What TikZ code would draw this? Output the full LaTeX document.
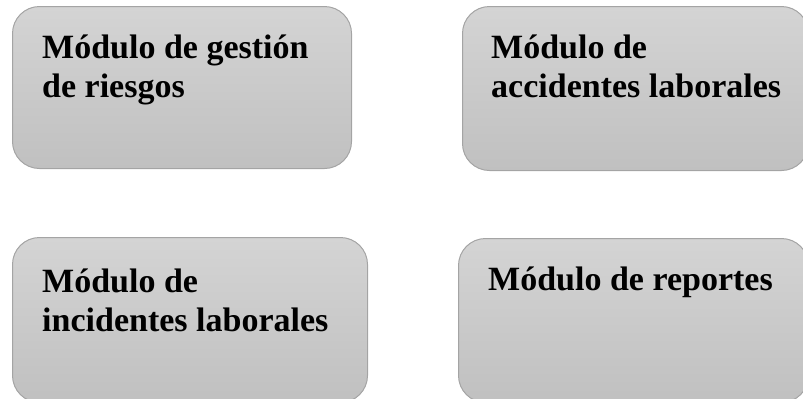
\documentclass[tikz,border=0pt]{standalone}
\usepackage{fontspec}
\setmainfont{Liberation Serif}
\definecolor{boxtop}{HTML}{D4D4D4}
\definecolor{boxbottom}{HTML}{C0C0C0}
\definecolor{boxedge}{HTML}{A4A4A4}
\begin{document}
\begin{tikzpicture}[x=1bp,y=-1bp,
  modbox/.style={draw=boxedge, line width=1bp, rounded corners=27bp,
    top color=boxtop, bottom color=boxbottom, anchor=north west,
    inner sep=0pt},
  modtext/.style={anchor=base west, inner sep=0pt, align=left,
    font=\fontsize{34bp}{39bp}\selectfont\bfseries}]
\useasboundingbox (0,0) rectangle (803,398);
% four module boxes
\node[modbox, minimum width=339bp, minimum height=162bp] (m1) at (12,6) {};
\node[modbox, minimum width=346bp, minimum height=164bp] (m2) at (462,6) {};
\node[modbox, minimum width=355bp, minimum height=165bp] (m3) at (12,237) {};
\node[modbox, minimum width=350bp, minimum height=164bp] (m4) at (458,238) {};
% module titles (anchored at the baseline of their last line)
\node[modtext] (t1) at (42,97) {Módulo de gestión\\de riesgos};
\node[modtext] (t2) at (491,97) {Módulo de\\accidentes laborales};
\node[modtext] (t3) at (42,331) {Módulo de\\incidentes laborales};
\node[modtext] (t4) at (488,290) {Módulo de reportes};
\end{tikzpicture}
\end{document}
